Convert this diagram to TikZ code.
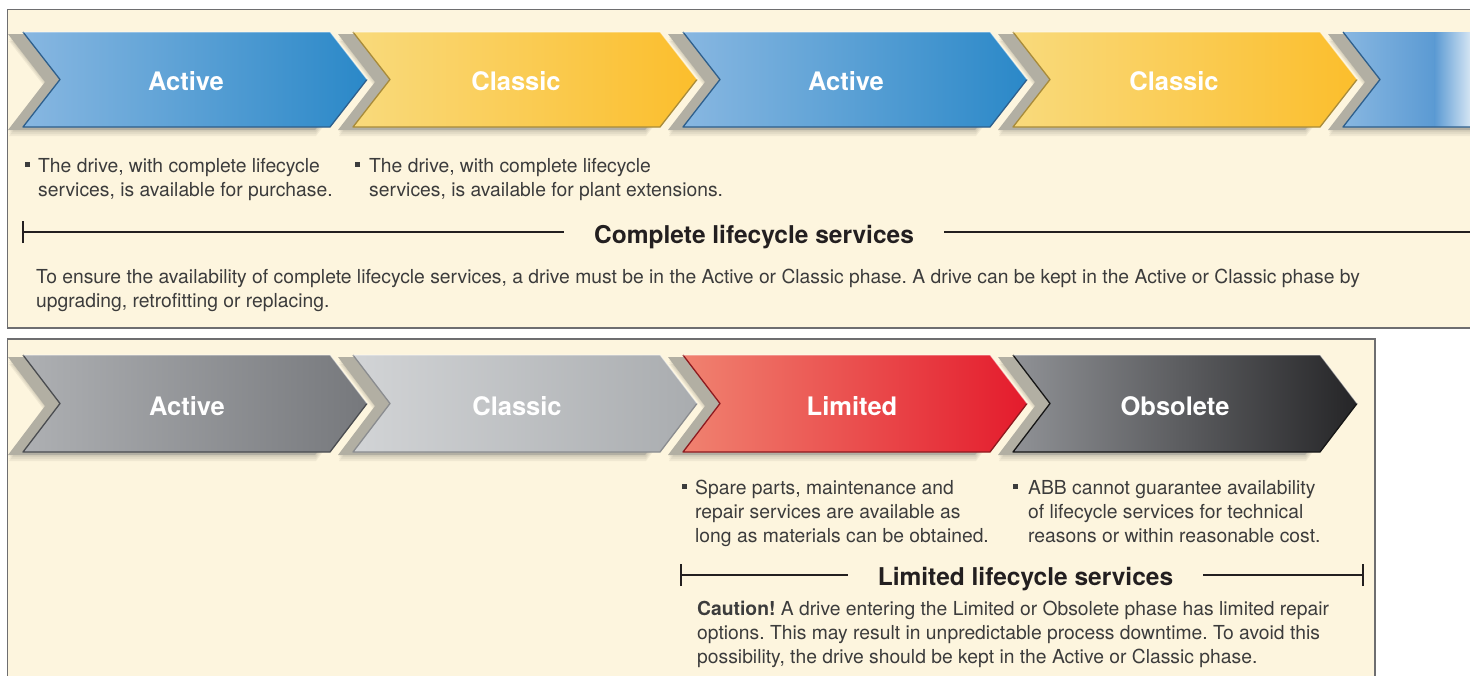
\documentclass[tikz,border=0pt]{standalone}
\usepackage{fontspec}
\setmainfont{TeX Gyre Heros}
\frenchspacing
\usetikzlibrary{calc}
\definecolor{cream}{HTML}{FDF5DE}
\definecolor{panelline}{HTML}{6E6E70}
\definecolor{txtgray}{HTML}{3C3C3C}
\definecolor{headblack}{HTML}{231F20}
\definecolor{chshadow}{HTML}{B2AFA3}
\definecolor{blueL}{HTML}{88B7E1}
\definecolor{blueR}{HTML}{2A88C8}
\definecolor{blueE}{HTML}{2E5F8C}
\definecolor{yelL}{HTML}{F9DA7C}
\definecolor{yelR}{HTML}{FBBE2C}
\definecolor{yelE}{HTML}{A88B3A}
\definecolor{gaL}{HTML}{AEB0B3}
\definecolor{gaR}{HTML}{76787C}
\definecolor{gaE}{HTML}{4A4C50}
\definecolor{gcL}{HTML}{D2D4D6}
\definecolor{gcR}{HTML}{A9ACAF}
\definecolor{gcE}{HTML}{8A8C8F}
\definecolor{redL}{HTML}{F08270}
\definecolor{redR}{HTML}{E41B2C}
\definecolor{redE}{HTML}{8E1A1F}
\definecolor{obL}{HTML}{909296}
\definecolor{obR}{HTML}{252527}
\definecolor{obE}{HTML}{161616}
\definecolor{bluePale}{HTML}{D3E4F3}
\definecolor{blueMid}{HTML}{5B9AD3}
\tikzset{
  panel/.style={draw=panelline, line width=1.3pt, fill=cream},
  chlabel/.style={text=white, font=\fontsize{25.5}{30}\selectfont\bfseries, inner sep=0pt},
  bodytxt/.style={text=txtgray, font=\fontsize{19.3}{24.3}\selectfont, inner sep=0pt, anchor=base west},
  headtxt/.style={text=headblack, font=\fontsize{24.5}{29}\selectfont\bfseries, inner xsep=30pt, inner ysep=0pt, anchor=base},
  bracketline/.style={draw=headblack, line width=2.1pt},
  bul/.style={fill=txtgray, minimum size=5.5pt, inner sep=0pt},
}
% chevron path: x0, ytop, ybot
\newcommand\chevpath[3]{(#1,#2) -- (#1+307,#2) -- (#1+344,{(#2+#3)/2}) -- (#1+307,#3) -- (#1,#3) -- (#1+37,{(#2+#3)/2}) -- cycle}
% chevron: x0, ytop, ybot, left colour, right colour, edge colour
\newcommand\mychev[6]{%
  \foreach \dd in {3,5,7,9}{\fill[black, opacity=.05] \chevpath{#1-14}{#2+\dd}{#3+\dd};}
  \fill[chshadow] \chevpath{#1-15}{#2+2}{#3+3};
  \shade[left color=#4, right color=#5] \chevpath{#1}{#2}{#3};
  \draw[#6, line width=1.3pt, line join=round] (#1+344,{(#2+#3)/2}) -- (#1+307,#3) -- (#1,#3) -- (#1+37,{(#2+#3)/2}) -- (#1,#2);
  \draw[white, opacity=.45, line width=1pt, line join=round] (#1,#2) -- (#1+307,#2) -- (#1+344,{(#2+#3)/2});
}
\begin{document}
\begin{tikzpicture}[x=1pt, y=-1pt]
\useasboundingbox (0,0) rectangle (1470,675);
\fill[white] (0,0) rectangle (1470,675);

% ---------------- top panel ----------------
\draw[panel] (7.5,9.5) rectangle (1480,328);
\begin{scope}
\clip (8,10) rectangle (1470,327);
\mychev{23}{32}{127}{blueL}{blueR}{blueE}
\mychev{353}{32}{127}{yelL}{yelR}{yelE}
\mychev{683}{32}{127}{blueL}{blueR}{blueE}
\mychev{1013}{32}{127}{yelL}{yelR}{yelE}
% fifth, cut at the right edge
\foreach \dd in {3,5,7,9}{\fill[black, opacity=.05] \chevpath{1329}{32+\dd}{127+\dd};}
\fill[chshadow] \chevpath{1328}{34}{130};
\begin{scope}
\clip \chevpath{1343}{32}{127};
\shade[left color=blueL, right color=blueMid] (1343,32) rectangle (1435,127);
\shade[left color=blueMid, right color=bluePale] (1434.5,32) rectangle (1470,127);
\end{scope}
\draw[blueE, line width=1.3pt, line join=round] (1475,127) -- (1343,127) -- (1380,79.5) -- (1343,32);
\end{scope}

\node[chlabel] (ta1) at (186,81.5) {Active};
\node[chlabel] (tc1) at (516,81.5) {Classic};
\node[chlabel] (ta2) at (846,81.5) {Active};
\node[chlabel] (tc2) at (1174,81.5) {Classic};

\node[bul] (tb1) at (27.5,164.5) {};
\node[bodytxt] (tt1) at (38,172) {\parbox[t]{320pt}{The drive, with complete lifecycle\\services, is available for purchase.}};
\node[bul] (tb2) at (357.5,164.5) {};
\node[bodytxt] (tt2) at (369,172) {\parbox[t]{380pt}{The drive, with complete lifecycle\\services, is available for plant extensions.}};

\coordinate (tl) at (23,232);
\coordinate (tr) at (1475,232);
\node[headtxt] (th) at (754,243) {Complete lifecycle services};
\draw[bracketline] (tl) -- (th.west |- tl);
\draw[bracketline] (th.east |- tl) -- (tr);
\draw[bracketline] ([yshift=-11pt]tl) -- ([yshift=11pt]tl);

\node[bodytxt] (tp) at (36,283) {\parbox[t]{1420pt}{To ensure the availability of complete lifecycle services, a drive must be in the Active or Classic phase. A drive can be kept in the Active or Classic phase by\\upgrading, retrofitting or replacing.}};

% ---------------- bottom panel ----------------
\draw[panel] (7.5,339) rectangle (1375,690);
\begin{scope}
\clip (8,340) rectangle (1374,675);
\mychev{23}{355}{452}{gaL}{gaR}{gaE}
\mychev{353}{355}{452}{gcL}{gcR}{gcE}
\mychev{683}{355}{452}{redL}{redR}{redE}
\mychev{1013}{355}{452}{obL}{obR}{obE}
\end{scope}

\node[chlabel] (ba) at (187,406) {Active};
\node[chlabel] (bc) at (517,406) {Classic};
\node[chlabel] (bl) at (852,406) {Limited};
\node[chlabel] (bo) at (1175,406) {Obsolete};

\node[bul] (bb1) at (684.5,486.5) {};
\node[bodytxt] (bt1) at (695,494) {\parbox[t]{340pt}{Spare parts, maintenance and\\repair services are available as\\long as materials can be obtained.}};
\node[bul] (bb2) at (1015.5,486.5) {};
\node[bodytxt] (bt2) at (1028,494) {\parbox[t]{340pt}{ABB cannot guarantee availability\\of lifecycle services for technical\\reasons or within reasonable cost.}};

\coordinate (bl0) at (681,575);
\coordinate (br0) at (1363,575);
\node[headtxt] (bh) at (1025.5,585) {Limited lifecycle services};
\draw[bracketline] (bl0) -- (bh.west |- bl0);
\draw[bracketline] (bh.east |- bl0) -- (br0);
\draw[bracketline] ([yshift=-11pt]bl0) -- ([yshift=11pt]bl0);
\draw[bracketline] ([yshift=-11pt]br0) -- ([yshift=11pt]br0);

\node[bodytxt] (bp) at (697,615) {\parbox[t]{720pt}{\textbf{Caution!} A drive entering the Limited or Obsolete phase has limited repair\\options. This may result in unpredictable process downtime. To avoid this\\possibility, the drive should be kept in the Active or Classic phase.}};
\end{tikzpicture}
\end{document}
